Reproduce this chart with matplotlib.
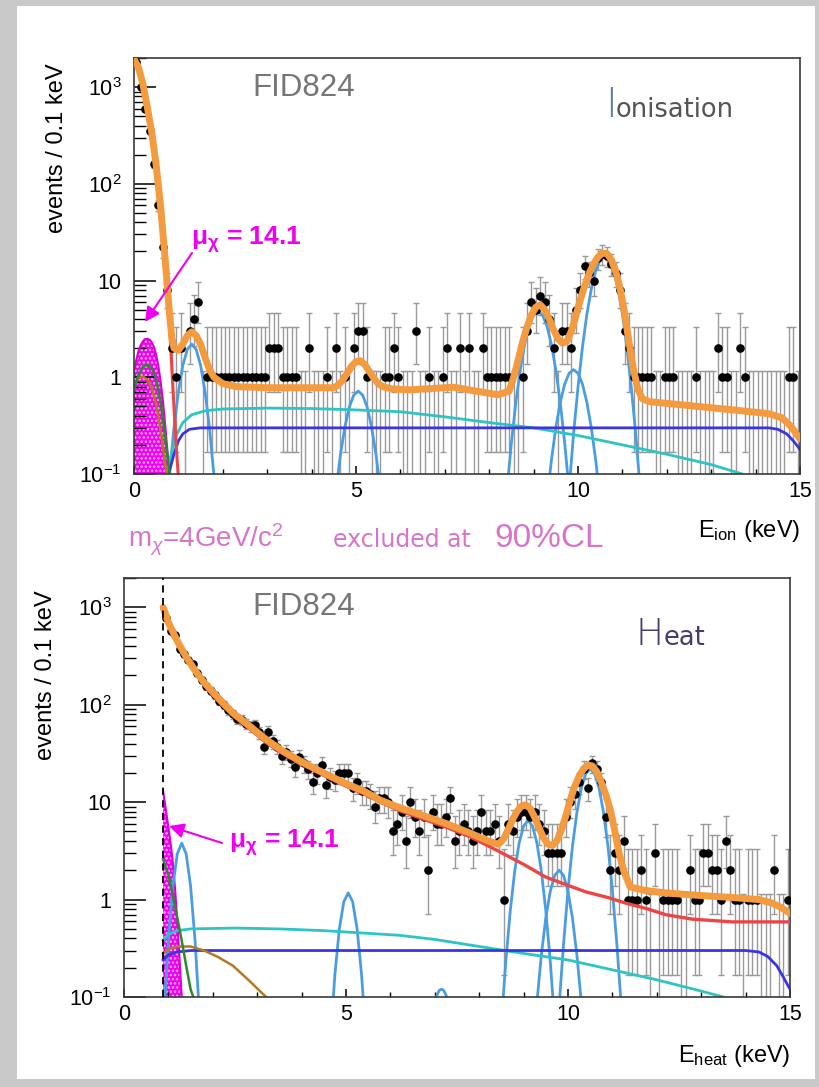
import numpy as np
import matplotlib
matplotlib.use('Agg')
import matplotlib.pyplot as plt
from matplotlib.patches import Rectangle
from matplotlib.ticker import MultipleLocator, LogLocator, NullFormatter

plt.rcParams['font.family'] = ['Liberation Sans', 'DejaVu Sans']
plt.rcParams['mathtext.fontset'] = 'custom'
plt.rcParams['mathtext.rm'] = 'Liberation Sans'
plt.rcParams['mathtext.it'] = 'Liberation Sans:italic'
plt.rcParams['mathtext.bf'] = 'Liberation Sans:bold'
plt.rcParams['hatch.linewidth'] = 1.2

W, H = 819, 1087

# ---- binning: 150 bins of 0.1 keV ----
bin_centres = np.round(np.arange(150) * 0.1 + 0.05, 2)

# ---- ionisation spectrum (counts / 0.1 keV) ----
ion_counts = [
    1800, 1000, 600, 350, 160, 60, 22, 8, 2, 1,
    2, 0, 3, 4, 6, 0, 1, 1, 1, 1,
    1, 1, 1, 1, 1, 1, 1, 1, 1, 1,
    2, 2, 2, 1, 1, 1, 1, 0, 0, 2,
    0, 0, 0, 1, 0, 2, 0, 1, 0, 2,
    3, 3, 1, 0, 0, 0, 1, 1, 2, 1,
    0, 0, 0, 3, 0, 0, 1, 0, 0, 1,
    2, 0, 0, 2, 0, 2, 0, 0, 2, 1,
    1, 1, 1, 1, 1, 0, 0, 1, 3, 6,
    5, 7, 6, 4, 2, 0, 3, 3, 2, 5,
    8, 14, 12, 10, 17, 19, 18, 15, 12, 8,
    3, 2, 1, 1, 1, 1, 1, 0, 0, 1,
    1, 1, 0, 0, 0, 0, 1, 0, 0, 0,
    0, 2, 1, 1, 0, 0, 2, 1, 0, 0,
    0, 0, 0, 0, 0, 0, 0, 1, 1, 0,
]

# ---- heat spectrum (nan = below threshold) ----
nan = float('nan')
heat_counts = [
    nan, nan, nan, nan, nan, nan, nan, nan, nan, 780,
    570, 520, 370, 330, 290, 260, 210, 180, 155, 140,
    125, 110, 100, 88, 80, 72, 70, 64, 60, 62,
    52, 37, 53, 42, 37, 30, 33, 28, 23, 29,
    25, 22, 16, 20, 24, 15, 18, 17, 20, 20,
    20, 14, 16, 13, 13, 12, 9, 11, 11, 10,
    5, 6, 8, 4, 10, 7, 5, 7, 2, 8,
    6, 6, 7, 11, 4, 5, 6, 5, 4, 5,
    8, 5, 5, 6, 4, 1, 6, 5, 7, 8,
    8, 7, 8, 6, 5, 3, 3, 3, 3, 7,
    10, 12, 16, 22, 14, 25, 22, 16, 7, 2,
    3, 2, 4, 1, 1, 1, 2, 1, 0, 3,
    0, 1, 1, 1, 1, 0, 0, 2, 1, 1,
    3, 3, 2, 2, 1, 4, 2, 1, 1, 0,
    1, 1, 1, 0, 0, 0, 2, 0, 0, 1,
]

# Poisson error bands (count -> low, high)
err_lo_table = [0.01, 0.17, 0.71, 1.37, 2.09, 2.84, 3.62, 4.42, 5.23, 6.06, 6.89]
err_hi_table = [1.15, 3.3, 4.64, 5.92, 7.16, 8.38, 9.58, 10.77, 11.95, 13.11, 14.27]

# ---- ionisation fit curves ----
ion_total_e = [0, 0.1, 0.2, 0.3, 0.4, 0.5, 0.6, 0.7, 0.8, 0.85,
               0.9, 1.0, 1.1, 1.2, 1.3, 1.4, 1.5, 1.6, 1.7, 1.8,
               2.0, 2.3, 3.0, 4.5, 4.6, 4.7, 4.8, 4.9, 5.0, 5.1,
               5.2, 5.3, 5.4, 5.5, 5.6, 5.8, 6.2, 6.8, 7.2, 7.7,
               8.2, 8.45, 8.55, 8.65, 8.75, 8.85, 8.95, 9.05, 9.15, 9.25,
               9.35, 9.45, 9.55, 9.65, 9.75, 9.85, 9.95, 10.05, 10.15, 10.25,
               10.35, 10.45, 10.55, 10.65, 10.75, 10.85, 10.95, 11.05, 11.15, 11.25,
               11.35, 11.45, 11.6, 12.5, 13.5, 14.3, 14.6, 14.8, 15.0]
ion_total_v = [1950, 1600, 1080, 620, 340, 155, 58, 17, 4.5, 2.6,
               2.0, 1.9, 2.2, 2.7, 2.95, 2.7, 2.2, 1.6, 1.2, 1.0,
               0.86, 0.8, 0.78, 0.78, 0.83, 0.93, 1.1, 1.3, 1.45, 1.48,
               1.35, 1.15, 0.98, 0.86, 0.8, 0.76, 0.74, 0.77, 0.79, 0.72,
               0.66, 0.72, 1.0, 1.5, 2.3, 3.3, 4.4, 5.3, 5.6, 5.0,
               4.0, 3.1, 2.5, 2.25, 2.35, 3.0, 4.3, 6.3, 8.8, 11.8,
               14.8, 17.5, 19.2, 19.0, 16.5, 12.5, 8.2, 4.6, 2.3, 1.2,
               0.75, 0.6, 0.56, 0.51, 0.46, 0.42, 0.38, 0.31, 0.23]

ion_red_e = [0, 0.1, 0.2, 0.3, 0.4, 0.5, 0.6, 0.7, 0.8, 0.85, 0.9, 0.95, 1.0]
ion_red_v = [1900, 1550, 1050, 600, 330, 150, 55, 15, 3.5, 1.3, 0.5, 0.2, 0.09]

ion_cyan_e = [0.75, 0.85, 0.95, 1.1, 1.3, 1.6, 2.0, 3.0, 4.0, 5.0,
              6.0, 7.0, 8.0, 9.0, 10.0, 11.0, 12.0, 13.0, 13.7]
ion_cyan_v = [0.1, 0.17, 0.25, 0.34, 0.41, 0.45, 0.47, 0.48, 0.475, 0.46,
              0.44, 0.39, 0.34, 0.3, 0.25, 0.2, 0.16, 0.125, 0.1]

ion_blue_e = [0.78, 0.9, 1.0, 1.1, 1.25, 1.5, 14.3, 14.5, 14.7, 14.85, 15.0]
ion_blue_v = [0.1, 0.16, 0.22, 0.26, 0.29, 0.3, 0.3, 0.29, 0.26, 0.22, 0.18]

ion_green_e = [0, 0.1, 0.2, 0.3, 0.4, 0.5, 0.6, 0.7, 0.8]
ion_green_v = [0.75, 1.05, 1.28, 1.35, 1.25, 0.95, 0.55, 0.25, 0.1]

ion_brown_e = [0, 0.1, 0.2, 0.3, 0.4, 0.5, 0.6, 0.7, 0.75]
ion_brown_v = [0.85, 0.98, 1.02, 0.95, 0.78, 0.52, 0.28, 0.13, 0.09]

ion_signal_e = [0, 0.05, 0.1, 0.15, 0.2, 0.25, 0.3, 0.35, 0.4,
                0.45, 0.5, 0.55, 0.6, 0.65, 0.7, 0.75, 0.8]
ion_signal_v = [1.15, 1.5, 1.85, 2.15, 2.35, 2.48, 2.5, 2.45, 2.3,
                2.05, 1.7, 1.3, 0.9, 0.58, 0.33, 0.18, 0.1]

ion_peak_e = [
    [0.8, 0.9, 1.0, 1.1, 1.2, 1.3, 1.4, 1.5, 1.6, 1.7, 1.8],
    [4.55, 4.65, 4.75, 4.85, 4.95, 5.05, 5.15, 5.25, 5.35, 5.45, 5.55],
    [8.4, 8.5, 8.6, 8.7, 8.8, 8.9, 9.0, 9.1, 9.2, 9.3, 9.4, 9.5, 9.6, 9.7, 9.8],
    [9.2, 9.3, 9.4, 9.5, 9.6, 9.7, 9.8, 9.9, 10.0, 10.1, 10.2, 10.3, 10.4, 10.5, 10.6],
    [9.8, 9.9, 10.0, 10.1, 10.2, 10.3, 10.4, 10.5, 10.6, 10.7, 10.8, 10.9, 11.0, 11.1, 11.2, 11.3, 11.4],
]
ion_peak_v = [
    [0.097, 0.30, 0.71, 1.33, 1.94, 2.2, 1.94, 1.33, 0.71, 0.30, 0.097],
    [0.068, 0.159, 0.307, 0.493, 0.655, 0.72, 0.655, 0.493, 0.307, 0.159, 0.068],
    [0.068, 0.21, 0.55, 1.2, 2.2, 3.4, 4.4, 4.8, 4.4, 3.4, 2.2, 1.2, 0.55, 0.21, 0.068],
    [0.017, 0.053, 0.137, 0.3, 0.55, 0.85, 1.1, 1.2, 1.1, 0.85, 0.55, 0.3, 0.137, 0.053, 0.017],
    [0.07, 0.26, 0.79, 2.05, 4.5, 8.2, 12.7, 16.5, 18, 16.5, 12.7, 8.2, 4.5, 2.05, 0.79, 0.26, 0.07],
]

# ---- heat fit curves ----
heat_threshold = 0.88

heat_total_e = [0.88, 0.95, 1.0, 1.1, 1.2, 1.4, 1.6, 1.8, 2.0, 2.2,
                2.46, 2.8, 3.2, 3.6, 4.0, 4.4, 4.7, 5.0, 5.4, 5.77,
                6.2, 6.7, 7.27, 7.8, 8.2, 8.43, 8.55, 8.65, 8.75, 8.85,
                8.95, 9.05, 9.15, 9.25, 9.35, 9.45, 9.55, 9.65, 9.75, 9.85,
                9.95, 10.05, 10.15, 10.25, 10.35, 10.45, 10.55, 10.65, 10.75, 10.85,
                10.95, 11.05, 11.15, 11.25, 11.4, 11.7, 12.2, 13.0, 13.7, 14.3,
                14.6, 14.8, 15.0]
heat_total_v = [1000, 820, 700, 560, 450, 310, 225, 170, 135, 108,
                82, 62, 44, 33, 26, 21, 18, 15.5, 13, 10.5,
                8.8, 7.4, 6.0, 4.8, 4.0, 3.7, 4.2, 5.2, 6.6, 8.0,
                9.1, 9.4, 8.6, 7.0, 5.4, 4.3, 3.7, 3.6, 4.0, 5.2,
                7.2, 10.5, 14.5, 18.5, 22, 24, 23.5, 20.5, 16, 12,
                8.5, 5.2, 3.0, 2.0, 1.35, 1.25, 1.17, 1.1, 1.05, 1.0,
                0.92, 0.83, 0.72]

heat_red_e = [0.88, 1.0, 1.2, 1.4, 1.6, 1.8, 2.0, 2.2, 2.46, 2.8,
              3.2, 3.6, 4.0, 4.4, 4.7, 5.0, 5.4, 5.77, 6.2, 6.7,
              7.27, 7.8, 8.4, 9.0, 9.5, 10.0, 10.4, 10.9, 11.3, 11.8,
              12.2, 12.8, 13.7, 15.0]
heat_red_v = [960, 670, 430, 295, 214, 160, 126, 100, 77, 58,
              41, 31, 24.5, 19.8, 17, 14.6, 12.2, 10, 8.2, 6.8,
              5.5, 4.4, 3.2, 2.3, 1.7, 1.4, 1.2, 1.05, 0.92, 0.8,
              0.7, 0.63, 0.59, 0.59]

heat_cyan_e = [0.88, 1.0, 1.2, 1.5, 2.5, 3.5, 4.5, 5.5, 6.2, 7.0,
               8.0, 9.0, 10.0, 11.0, 12.0, 13.0, 13.5]
heat_cyan_v = [0.38, 0.44, 0.48, 0.5, 0.51, 0.5, 0.48, 0.45, 0.43, 0.39,
               0.33, 0.28, 0.24, 0.19, 0.15, 0.115, 0.1]

heat_blue_e = [0.88, 1.0, 1.2, 1.5, 14.0, 14.3, 14.5, 14.7, 14.85, 15.0]
heat_blue_v = [0.24, 0.27, 0.29, 0.3, 0.3, 0.29, 0.26, 0.21, 0.16, 0.12]

heat_brown_e = [0.88, 1.0, 1.2, 1.5, 1.8, 2.1, 2.45, 2.8, 3.2]
heat_brown_v = [0.28, 0.31, 0.33, 0.33, 0.3, 0.26, 0.21, 0.15, 0.1]

heat_green_e = [0.88, 1.0, 1.1, 1.2, 1.3, 1.4, 1.5, 1.56]
heat_green_v = [2.6, 1.8, 1.1, 0.65, 0.38, 0.21, 0.12, 0.1]

heat_signal_e = [0.88, 0.95, 1.0, 1.05, 1.1, 1.15, 1.2, 1.25, 1.3]
heat_signal_v = [13, 8, 5.5, 3.8, 2.4, 1.3, 0.6, 0.25, 0.1]

heat_peak_e = [
    [0.9, 1.0, 1.1, 1.2, 1.3, 1.4, 1.5, 1.6, 1.7],
    [4.65, 4.75, 4.85, 4.95, 5.05, 5.15, 5.25, 5.35, 5.45],
    [7.0, 7.05, 7.1, 7.15, 7.2, 7.25, 7.3],
    [8.5, 8.6, 8.7, 8.8, 8.9, 9.0, 9.1, 9.2, 9.3, 9.4, 9.5, 9.6, 9.7],
    [9.2, 9.3, 9.4, 9.5, 9.6, 9.7, 9.8, 9.9, 10.0, 10.1, 10.2, 10.3, 10.4],
    [9.8, 9.9, 10.0, 10.1, 10.2, 10.3, 10.4, 10.5, 10.6, 10.7, 10.8, 10.9, 11.0, 11.1, 11.2],
]
heat_peak_v = [
    [0.065, 0.38, 1.37, 2.95, 3.8, 2.95, 1.37, 0.38, 0.065],
    [0.038, 0.17, 0.5, 0.95, 1.17, 0.95, 0.5, 0.17, 0.038],
    [0.09, 0.105, 0.117, 0.12, 0.117, 0.105, 0.09],
    [0.055, 0.234, 0.77, 1.96, 3.82, 5.69, 6.5, 5.69, 3.82, 1.96, 0.77, 0.234, 0.055],
    [0.022, 0.088, 0.27, 0.65, 1.21, 1.77, 2.0, 1.77, 1.21, 0.65, 0.27, 0.088, 0.022],
    [0.081, 0.35, 1.25, 3.52, 7.85, 13.9, 19.6, 22, 19.6, 13.9, 7.85, 3.52, 1.25, 0.35, 0.081],
]

# ---- colours ----
ORANGE = '#f39b3e'
PEAK_BLUE = '#4a9de2'
CYAN = '#2ec4c4'
BLUE = '#3b35e0'
RED = '#ec4545'
GREEN = '#2b8a2b'
BROWN = '#b37a22'
MAGENTA = '#f000f0'
PINK = '#d874c8'
BAR_GREY = '#9a9a9a'


def fxy(px, py):
    # pixel position in the picture -> figure fraction
    return px / W, 1 - py / H


def error_band(n):
    n = np.asarray(n, dtype=float)
    lo = np.empty_like(n)
    hi = np.empty_like(n)
    for i, c in enumerate(n):
        k = int(c)
        if k < len(err_lo_table):
            lo[i] = err_lo_table[k]
            hi[i] = err_hi_table[k]
        else:
            lo[i] = c - np.sqrt(c)
            hi[i] = c + np.sqrt(c)
    return lo, hi


def draw_data(ax, counts):
    counts = np.asarray(counts, dtype=float)
    valid = ~np.isnan(counts)
    zero = valid & (counts == 0)
    pos = valid & (counts > 0)

    nz = zero.sum()
    ax.errorbar(bin_centres[zero], np.full(nz, err_hi_table[0]),
                yerr=[np.full(nz, err_hi_table[0] - 0.01), np.zeros(nz)],
                fmt='none', ecolor=BAR_GREY, elinewidth=1.0, capsize=2.4, capthick=1.0, zorder=1)

    lo, hi = error_band(counts[pos])
    ax.errorbar(bin_centres[pos], counts[pos], yerr=[counts[pos] - lo, hi - counts[pos]],
                fmt='none', ecolor=BAR_GREY, elinewidth=1.0, capsize=2.4, capthick=1.0, zorder=1)
    ax.plot(bin_centres[pos], counts[pos], 'o', color='black', ms=6.2, mew=0, zorder=3)


def style_axes(ax):
    ax.set_yscale('log')
    ax.set_xlim(0, 15)
    ax.set_ylim(0.1, 2000)
    ax.set_yticks([0.1, 1, 10, 100, 1000])
    ax.set_yticklabels([r'$10^{-1}$', '1', '10', r'$10^{2}$', r'$10^{3}$'])
    ax.yaxis.set_minor_locator(LogLocator(base=10, subs=np.arange(2, 10)))
    ax.yaxis.set_minor_formatter(NullFormatter())
    ax.xaxis.set_major_locator(MultipleLocator(5))
    ax.xaxis.set_minor_locator(MultipleLocator(1))
    ax.tick_params(axis='y', which='major', direction='in', length=16, width=1.1,
                   labelsize=15.5, pad=9)
    ax.tick_params(axis='y', which='minor', direction='in', length=8.5, width=1.0)
    ax.tick_params(axis='x', which='major', direction='in', length=6, width=1.1,
                   labelsize=15.5, pad=5)
    ax.tick_params(axis='x', which='minor', direction='in', length=3.5, width=1.0)
    ax.tick_params(top=False, right=False, which='both')
    for s in ax.spines.values():
        s.set_color('#3a3a3a')
        s.set_linewidth(1.2)
    ax.set_facecolor('white')


def draw_components(ax, curves, peaks_e, peaks_v, signal_e, signal_v, sig_from):
    # signal hump goes underneath, the background shapes sit on top of it
    ax.fill_between(signal_e, sig_from, signal_v, facecolor=MAGENTA, edgecolor='#ffb3ff',
                    hatch='....', linewidth=0, zorder=1.5)
    ax.plot(signal_e, signal_v, color='#d800d8', lw=1.5, zorder=1.6)
    for e, v in zip(peaks_e, peaks_v):
        ax.plot(e, v, color=PEAK_BLUE, lw=2.0, zorder=2)
    for e, v, c, lw in curves:
        ax.plot(e, v, color=c, lw=lw, zorder=2.2)


def mu_label(fig, px, py):
    fig.text(*fxy(px, py), r'$\mathbf{\mu_{\chi}}$ = 14.1', ha='left', va='center',
             fontsize=19, fontweight='bold', color=MAGENTA)


def main():
    fig = plt.figure(figsize=(W / 100, H / 100), dpi=100, facecolor='#c9c9c9')
    fig.add_artist(Rectangle(fxy(17, 1079), (815 - 17) / W, (1079 - 6) / H,
                             transform=fig.transFigure, facecolor='white',
                             edgecolor='none', zorder=0))

    # ----- ionisation panel -----
    ax1 = fig.add_axes([134 / W, 1 - 474 / H, 666 / W, (474 - 58) / H])
    style_axes(ax1)
    draw_data(ax1, ion_counts)
    draw_components(ax1,
                    [(ion_cyan_e, ion_cyan_v, CYAN, 2.0),
                     (ion_blue_e, ion_blue_v, BLUE, 2.0),
                     (ion_brown_e, ion_brown_v, BROWN, 1.8),
                     (ion_green_e, ion_green_v, GREEN, 1.8),
                     (ion_red_e, ion_red_v, RED, 2.2)],
                    ion_peak_e, ion_peak_v, ion_signal_e, ion_signal_v, 0.09)
    ax1.plot(ion_total_e, ion_total_v, color=ORANGE, lw=5, solid_capstyle='round', zorder=4)

    # ----- heat panel -----
    ax2 = fig.add_axes([124 / W, 1 - 997 / H, 666 / W, (997 - 578) / H])
    style_axes(ax2)
    draw_data(ax2, heat_counts)
    draw_components(ax2,
                    [(heat_cyan_e, heat_cyan_v, CYAN, 2.0),
                     (heat_blue_e, heat_blue_v, BLUE, 2.0),
                     (heat_brown_e, heat_brown_v, BROWN, 1.8),
                     (heat_green_e, heat_green_v, GREEN, 1.8)],
                    heat_peak_e, heat_peak_v, heat_signal_e, heat_signal_v, 0.09)
    ax2.plot(heat_red_e, heat_red_v, color=RED, lw=2.4, zorder=3.5)
    ax2.plot(heat_total_e, heat_total_v, color=ORANGE, lw=5, solid_capstyle='round', zorder=4)
    ax2.axvline(heat_threshold, color='black', lw=1.3, ls=(0, (4, 3)), zorder=5)

    # ----- axis titles -----
    fig.text(*fxy(57, 148), 'events / 0.1 keV', rotation=90, ha='center', va='center', fontsize=17)
    fig.text(*fxy(46, 675), 'events / 0.1 keV', rotation=90, ha='center', va='center', fontsize=17)
    fig.text(*fxy(800, 531), r'E$_{\rm ion}$ (keV)', ha='right', va='center', fontsize=17)
    fig.text(*fxy(790, 1056), r'E$_{\rm heat}$ (keV)', ha='right', va='center', fontsize=17)

    # ----- panel labels -----
    for y in (88, 607):
        fig.text(*fxy(252, y), 'FID824', ha='left', va='center', fontsize=22.5,
                 color='#767676')
    fig.text(*fxy(605, 117), 'I', ha='left', va='baseline', fontsize=29,
             color='#5a7d9c', family=['DejaVu Sans'], fontweight='light')
    fig.text(*fxy(616, 117), 'onisation', ha='left', va='baseline', fontsize=18.5,
             color='#555555', family=['DejaVu Sans'])
    fig.text(*fxy(635, 645), 'H', ha='left', va='baseline', fontsize=27,
             color='#4b3c6e', family=['DejaVu Sans'], fontweight='light')
    fig.text(*fxy(664, 645), 'eat', ha='left', va='baseline', fontsize=18.5,
             color='#4b3c6e', family=['DejaVu Sans'])

    # ----- signal annotations -----
    mu_label(fig, 191, 240)
    mu_label(fig, 229, 843)
    fig.add_artist(plt.Annotation('', xy=fxy(145, 322), xytext=fxy(192, 253),
                                  xycoords='figure fraction', textcoords='figure fraction',
                                  arrowprops=dict(arrowstyle='-|>', color=MAGENTA, lw=1.5,
                                                  mutation_scale=22, shrinkA=0, shrinkB=0)))
    fig.add_artist(plt.Annotation('', xy=fxy(169, 826), xytext=fxy(222, 843),
                                  xycoords='figure fraction', textcoords='figure fraction',
                                  arrowprops=dict(arrowstyle='-|>', color=MAGENTA, lw=1.5,
                                                  mutation_scale=22, shrinkA=0, shrinkB=0)))

    # ----- exclusion note -----
    fig.text(*fxy(128, 547), r'm$_\chi$=4GeV/c$^2$', ha='left', va='baseline', fontsize=20,
             color=PINK)
    fig.text(*fxy(402, 547), 'excluded at', ha='center', va='baseline', fontsize=17,
             color=PINK, family=['DejaVu Sans'])
    fig.text(*fxy(494, 547), '90%CL', ha='left', va='baseline', fontsize=24, color=PINK)

    fig.savefig('out.png', dpi=100, facecolor=fig.get_facecolor())


if __name__ == "__main__":
    main()
